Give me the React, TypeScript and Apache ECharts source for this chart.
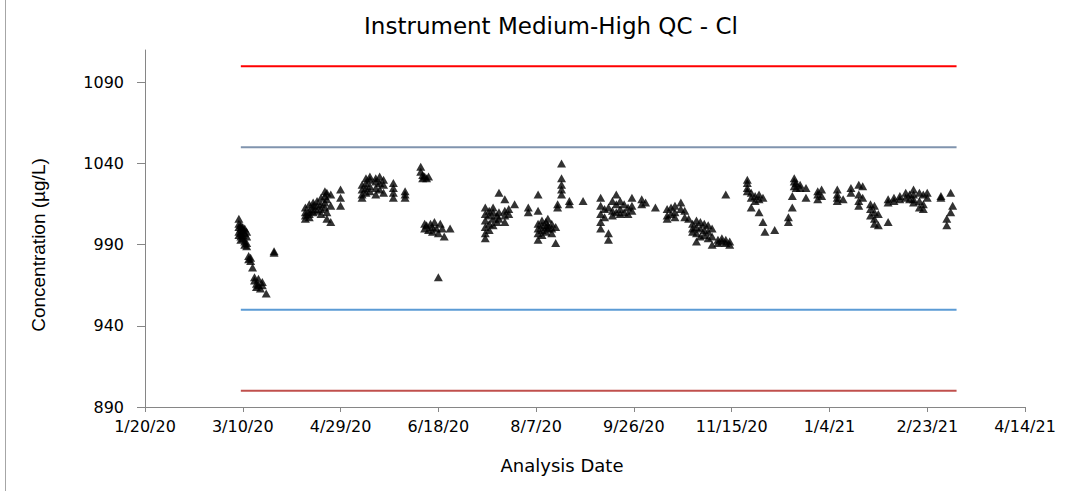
import React, { useEffect, useRef } from "react";
import * as echarts from "echarts";

// Analysis dates are Excel date serials (43831 = 1/1/2020)
const xTickValues = [43850, 43900, 43950, 44000, 44050, 44100, 44150, 44200, 44250, 44300];
const xTickLabels = ["1/20/20", "3/10/20", "4/29/20", "6/18/20", "8/7/20", "9/26/20", "11/15/20", "1/4/21", "2/23/21", "4/14/21"];
const yTickValues = [890, 940, 990, 1040, 1090];

const limitStart = 43899;
const limitEnd = 44265;
const upperControl = 1100;
const upperWarning = 1050;
const lowerWarning = 950;
const lowerControl = 900;

const marchPoints = [
  [43898, 1006], [43898, 1003], [43898, 1001], [43898, 998], [43898, 996],
  [43899, 1002], [43899, 1000], [43899, 997], [43899, 995], [43899, 993],
  [43900, 1001], [43900, 999], [43900, 996], [43900, 994],
  [43901, 1000], [43901, 997], [43901, 992], [43901, 990],
  [43902, 998], [43902, 995], [43902, 991], [43902, 989],
  [43903, 983], [43903, 981], [43904, 982], [43904, 980],
  [43905, 976], [43906, 970], [43906, 968], [43907, 966], [43907, 964],
  [43908, 969], [43908, 965], [43909, 963], [43910, 967], [43910, 965],
  [43912, 960], [43916, 986], [43916, 985],
];

const aprilMayPoints = [
  [43932, 1010], [43932, 1008], [43932, 1013], [43932, 1006],
  [43934, 1015], [43934, 1011], [43934, 1009], [43934, 1007],
  [43936, 1016], [43936, 1012], [43936, 1010], [43936, 1014],
  [43938, 1014], [43938, 1011], [43938, 1017],
  [43940, 1019], [43940, 1015], [43940, 1012], [43940, 1009],
  [43942, 1023], [43942, 1020], [43942, 1016], [43942, 1013],
  [43943, 1022], [43943, 1018], [43943, 1010], [43943, 1006],
  [43945, 1021], [43945, 1014], [43945, 1004],
  [43950, 1024], [43950, 1019], [43950, 1014],
  [43961, 1027], [43961, 1024], [43961, 1021], [43961, 1019],
  [43963, 1031], [43963, 1028], [43963, 1025], [43963, 1022],
  [43965, 1032], [43965, 1030], [43965, 1026], [43965, 1023],
  [43968, 1031], [43968, 1029], [43968, 1025], [43968, 1021],
  [43970, 1032], [43970, 1028], [43970, 1024],
  [43972, 1030], [43972, 1027], [43972, 1022],
  [43977, 1028], [43977, 1025], [43977, 1022], [43977, 1019],
  [43983, 1023], [43983, 1021], [43983, 1019],
];

const juneJulyPoints = [
  [43991, 1038], [43991, 1035], [43992, 1033], [43992, 1031], [43993, 1032], [43994, 1031], [43995, 1032],
  [43993, 1003], [43993, 1000], [43994, 1002], [43995, 999], [43996, 1003], [43997, 1001], [43997, 998],
  [43998, 1004], [43999, 1000], [44000, 997], [44001, 1003], [44002, 1000], [44003, 995], [44006, 1000],
  [44000, 970],
  [44024, 1013], [44024, 1009], [44024, 1005], [44024, 1001], [44024, 997], [44024, 994],
  [44026, 1011], [44026, 1008], [44026, 1003], [44026, 999],
  [44028, 1013], [44028, 1010], [44028, 1006], [44028, 1002],
  [44030, 1008], [44030, 1004],
  [44031, 1022], [44031, 1010], [44031, 1006],
  [44034, 1018], [44034, 1011], [44034, 1008], [44034, 1004],
  [44036, 1012], [44036, 1009], [44039, 1015], [44046, 1013], [44046, 1010],
];

const augOctPoints = [
  [44051, 1021], [44051, 1011], [44051, 1003], [44051, 1000], [44051, 997], [44051, 993],
  [44053, 1005], [44053, 1002], [44053, 999], [44053, 996],
  [44055, 1004], [44055, 1001], [44055, 998],
  [44056, 1006], [44056, 1002], [44056, 1000],
  [44058, 1003], [44058, 1000], [44058, 997],
  [44060, 1001], [44060, 991],
  [44063, 1040], [44063, 1031], [44063, 1027], [44063, 1024], [44063, 1021],
  [44061, 1015], [44061, 1013], [44067, 1017], [44067, 1015], [44074, 1017],
  [44083, 1019], [44083, 1014], [44083, 1009], [44083, 1004], [44083, 1000],
  [44085, 1012], [44085, 1007],
  [44087, 1013], [44087, 997], [44087, 993],
  [44089, 1017], [44089, 1011], [44089, 1008],
  [44091, 1021], [44091, 1015], [44091, 1010],
  [44093, 1017], [44093, 1012], [44093, 1009],
  [44095, 1015], [44095, 1010],
  [44097, 1013], [44097, 1009],
  [44099, 1019], [44099, 1014], [44099, 1011],
  [44104, 1018], [44104, 1015], [44106, 1016], [44111, 1013],
  [44117, 1012], [44117, 1008], [44117, 1006],
  [44119, 1013], [44119, 1009],
  [44121, 1014], [44121, 1010], [44121, 1007],
  [44124, 1016], [44124, 1012],
  [44126, 1011], [44126, 1007], [44128, 1006],
];

const novDecPoints = [
  [44130, 1003], [44130, 1000], [44130, 998],
  [44132, 1005], [44132, 1001], [44132, 997], [44132, 992],
  [44134, 1004], [44134, 1000], [44134, 995],
  [44136, 1003], [44136, 999], [44136, 996],
  [44138, 1002], [44138, 998], [44138, 994],
  [44140, 1000], [44140, 995], [44140, 990],
  [44143, 993], [44143, 991], [44145, 994], [44145, 992],
  [44147, 993], [44147, 991], [44149, 992], [44149, 990],
  [44147, 1021],
  [44158, 1030], [44158, 1028], [44158, 1025], [44158, 1023],
  [44160, 1022], [44160, 1019], [44160, 1013],
  [44162, 1020], [44162, 1017],
  [44164, 1021], [44164, 1018], [44164, 1010],
  [44166, 1019], [44166, 1004], [44167, 998], [44172, 999],
  [44179, 1007], [44179, 1004],
  [44181, 1020], [44181, 1013],
  [44182, 1031], [44182, 1029], [44182, 1026],
  [44183, 1028], [44183, 1025],
  [44185, 1027], [44185, 1025],
  [44188, 1025], [44188, 1019],
  [44194, 1023], [44194, 1021], [44194, 1018],
  [44196, 1024], [44196, 1020],
];

const janMarPoints = [
  [44204, 1024], [44204, 1021], [44204, 1019], [44204, 1017], [44207, 1018],
  [44211, 1025], [44211, 1022],
  [44215, 1027], [44215, 1021], [44215, 1017], [44215, 1014],
  [44217, 1026], [44217, 1019],
  [44221, 1015], [44221, 1012], [44221, 1008],
  [44223, 1014], [44223, 1010], [44223, 1006], [44223, 1003],
  [44225, 1009], [44225, 1002],
  [44230, 1018], [44230, 1016], [44230, 1004],
  [44233, 1019], [44233, 1017],
  [44236, 1020], [44236, 1018],
  [44239, 1022], [44239, 1019],
  [44241, 1021], [44241, 1018],
  [44243, 1024], [44243, 1021], [44243, 1018], [44243, 1016],
  [44246, 1022], [44246, 1017], [44246, 1013],
  [44248, 1021], [44248, 1015], [44248, 1012],
  [44250, 1022], [44250, 1019],
  [44257, 1020], [44257, 1019],
  [44260, 1006], [44260, 1002],
  [44262, 1022], [44262, 1010], [44263, 1014],
];

const qcPoints = [
  ...marchPoints, ...aprilMayPoints, ...juneJulyPoints,
  ...augOctPoints, ...novDecPoints, ...janMarPoints,
];

const tickFont = "'DejaVu Sans', Verdana, sans-serif";

function limitSeries(value: number, color: string, width: number) {
  return {
    type: "line",
    data: [[limitStart, value], [limitEnd, value]],
    symbol: "none",
    silent: true,
    lineStyle: { color, width },
    z: 1,
  };
}

export default function App() {
  const ref = useRef<HTMLDivElement>(null);
  useEffect(() => {
    if (!ref.current) return;
    const chart = echarts.init(ref.current, null, { renderer: "svg" });
    chart.setOption({
      animation: false,
      backgroundColor: "#ffffff",
      grid: { left: 145, right: 45, top: 50, bottom: 84, containLabel: false, outerBoundsMode: "none" },
      title: {
        text: "Instrument Medium-High QC - Cl",
        left: 546,
        top: 9,
        textAlign: "center",
        textStyle: { fontFamily: tickFont, fontSize: 23, fontWeight: "normal", color: "#000" },
      },
      xAxis: {
        type: "value",
        min: 43850,
        max: 44300,
        interval: 50,
        axisLine: { show: true, lineStyle: { color: "#868686", width: 1 } },
        axisTick: { show: true, length: 5, lineStyle: { color: "#868686" }, customValues: xTickValues },
        axisLabel: {
          customValues: xTickValues,
          formatter: (v: number) => xTickLabels[xTickValues.indexOf(v)] ?? "",
          fontFamily: tickFont,
          fontSize: 16,
          color: "#000",
          margin: 11,
        },
        splitLine: { show: false },
      },
      yAxis: {
        type: "value",
        min: 890,
        max: 1110,
        axisLine: { show: true, lineStyle: { color: "#868686", width: 1 } },
        axisTick: { show: true, length: 8, lineStyle: { color: "#868686" }, customValues: yTickValues },
        axisLabel: {
          customValues: yTickValues,
          formatter: (v: number) => String(v),
          fontFamily: tickFont,
          fontSize: 16,
          color: "#000",
          margin: 21,
        },
        splitLine: { show: false },
      },
      graphic: [
        { type: "line", shape: { x1: 5.5, y1: 0, x2: 5.5, y2: 491 }, style: { stroke: "#a6a6a6", lineWidth: 1 } },
        {
          type: "text",
          x: 38,
          y: 245,
          rotation: Math.PI / 2,
          style: {
            text: "Concentration (µg/L)",
            fontFamily: "'Liberation Sans Narrow', 'Liberation Sans', sans-serif",
            fontSize: 19,
            fill: "#000",
            align: "center",
            verticalAlign: "middle",
          },
        },
        {
          type: "text",
          x: 562,
          y: 465,
          style: {
            text: "Analysis Date",
            fontFamily: tickFont,
            fontSize: 18,
            fill: "#000",
            align: "center",
            verticalAlign: "middle",
          },
        },
      ],
      series: [
        limitSeries(upperControl, "#ff0000", 2),
        limitSeries(upperWarning, "#8094ae", 2),
        limitSeries(lowerWarning, "#5b9bd5", 2),
        limitSeries(lowerControl, "#c0504d", 2),
        {
          type: "scatter",
          data: qcPoints,
          symbol: "triangle",
          symbolSize: [9, 8],
          itemStyle: { color: "#000000" },
          z: 3,
        },
      ],
    });
    return () => chart.dispose();
  }, []);
  return <div ref={ref} style={{ position: "fixed", left: 0, top: 0, width: 1070, height: 491 }} />;
}
